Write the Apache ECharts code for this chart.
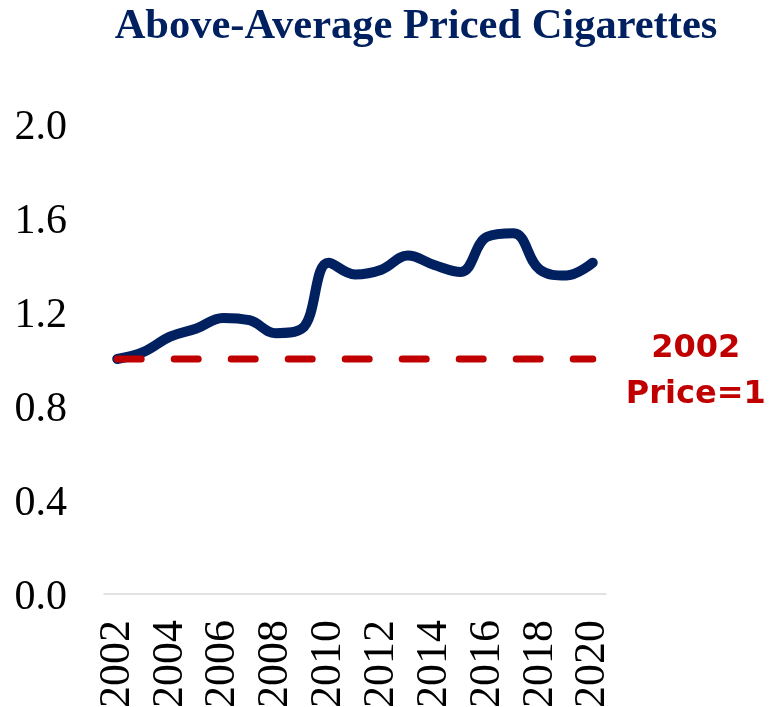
<!DOCTYPE html>
<html>
<head>
<meta charset="utf-8">
<script src="https://cdn.jsdelivr.net/npm/echarts@6/dist/echarts.min.js"></script>
<style>
  html, body { margin: 0; padding: 0; background: #fff; }
  #chart { width: 771px; height: 707px; }
</style>
</head>
<body>
<div id="chart"></div>
<script>
// Price index of above-average priced cigarettes, 2002 = 1
var years = ['2002','2003','2004','2005','2006','2007','2008','2009','2010','2011',
             '2012','2013','2014','2015','2016','2017','2018','2019','2020'];
var priceIndex = [1.00, 1.03, 1.095, 1.13, 1.175, 1.165, 1.11, 1.13, 1.41, 1.36,
                  1.38, 1.44, 1.40, 1.37, 1.52, 1.535, 1.38, 1.355, 1.41];
var baseline = [1,1,1,1,1,1,1,1,1,1,1,1,1,1,1,1,1,1,1];
var yTicks = [0, 0.4, 0.8, 1.2, 1.6, 2.0];

var chart = echarts.init(document.getElementById('chart'));
chart.setOption({
  animation: false,
  title: {
    text: 'Above-Average Priced Cigarettes',
    left: 411, top: 1, textAlign: 'center',
    textStyle: { fontFamily: 'Liberation Serif', fontWeight: 'bold', fontSize: 42.5, color: '#002060' }
  },
  grid: { left: 104, width: 502, top: 124, height: 470, containLabel: false, outerBoundsMode: 'none' },
  xAxis: {
    type: 'category',
    data: years,
    boundaryGap: true,
    axisLine: { show: true, lineStyle: { color: '#d9d9d9', width: 1.5 } },
    axisTick: { show: false },
    axisLabel: {
      interval: 1, rotate: 90, margin: 26,
      fontFamily: 'Liberation Serif', fontSize: 44, color: '#000'
    }
  },
  yAxis: {
    type: 'value',
    min: yTicks[0], max: yTicks[yTicks.length - 1], interval: 0.4,
    axisLine: { show: false },
    axisTick: { show: false },
    splitLine: { show: false },
    axisLabel: {
      margin: 37,
      fontFamily: 'Liberation Serif', fontSize: 42, color: '#000',
      formatter: function (v) { return '{t|' + v.toFixed(1) + '}'; },
      rich: { t: { fontFamily: 'Liberation Serif', fontSize: 42, color: '#000', padding: [8, 0, 0, 0] } }
    }
  },
  series: [
    {
      type: 'line',
      data: priceIndex,
      smooth: 0.4,
      symbol: 'none',
      lineStyle: { color: '#002060', width: 10, cap: 'round', join: 'round' },
      z: 2
    },
    {
      type: 'line',
      data: baseline,
      symbol: 'none',
      lineStyle: { color: '#c00000', width: 7, type: [24, 33], cap: 'round' },
      z: 3,
      endLabel: {
        show: true,
        formatter: '2002\nPrice=1',
        fontFamily: 'DejaVu Sans', fontWeight: 'bold', fontSize: 32,
        color: '#c00000', lineHeight: 46, align: 'center', distance: 0,
        offset: [103, 13]
      }
    }
  ]
});
</script>
</body>
</html>
